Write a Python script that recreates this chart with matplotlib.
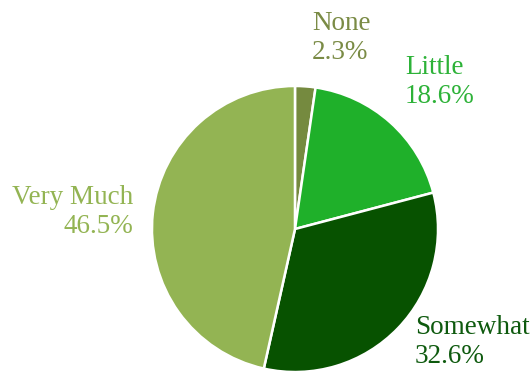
import matplotlib
matplotlib.use("Agg")
import matplotlib.pyplot as plt

categories = ["None", "Little", "Somewhat", "Very Much"]
shares = [2.3, 18.6, 32.6, 46.5]
colors = ["#758A3F", "#1FB02A", "#075200", "#93B453"]
label_colors = ["#7A8B45", "#2DB238", "#0E5A0E", "#93B453"]
explode_frac = [0.0, 0.0, 0.03, 0.03]

W, H = 532, 373
fig = plt.figure(figsize=(W / 100, H / 100), dpi=100)
ax = fig.add_axes([0, 0, 1, 1])

cx, cy, r = 295, H - 229, 143
ax.pie(shares, colors=colors, startangle=90, counterclock=False,
       center=(cx, cy), radius=r, explode=explode_frac,
       wedgeprops=dict(edgecolor="white", linewidth=1.8), frame=True)
ax.set_xlim(0, W)
ax.set_ylim(0, H)
ax.set_aspect("equal")
ax.axis("off")

font = dict(family="Liberation Serif", fontsize=19.5, linespacing=1.2)
# label anchor points (x, y from top, horizontal alignment)
label_pos = [(312, 38, "left"), (405, 82, "left"), (415, 342, "left"), (133, 212, "right")]
for cat, val, col, (x, y, ha) in zip(categories, shares, label_colors, label_pos):
    ax.text(x, H - y, f"{cat}\n{val:.1f}%", color=col, ha=ha, va="center",
            multialignment=ha, **font)

fig.savefig("out.png", dpi=100)
